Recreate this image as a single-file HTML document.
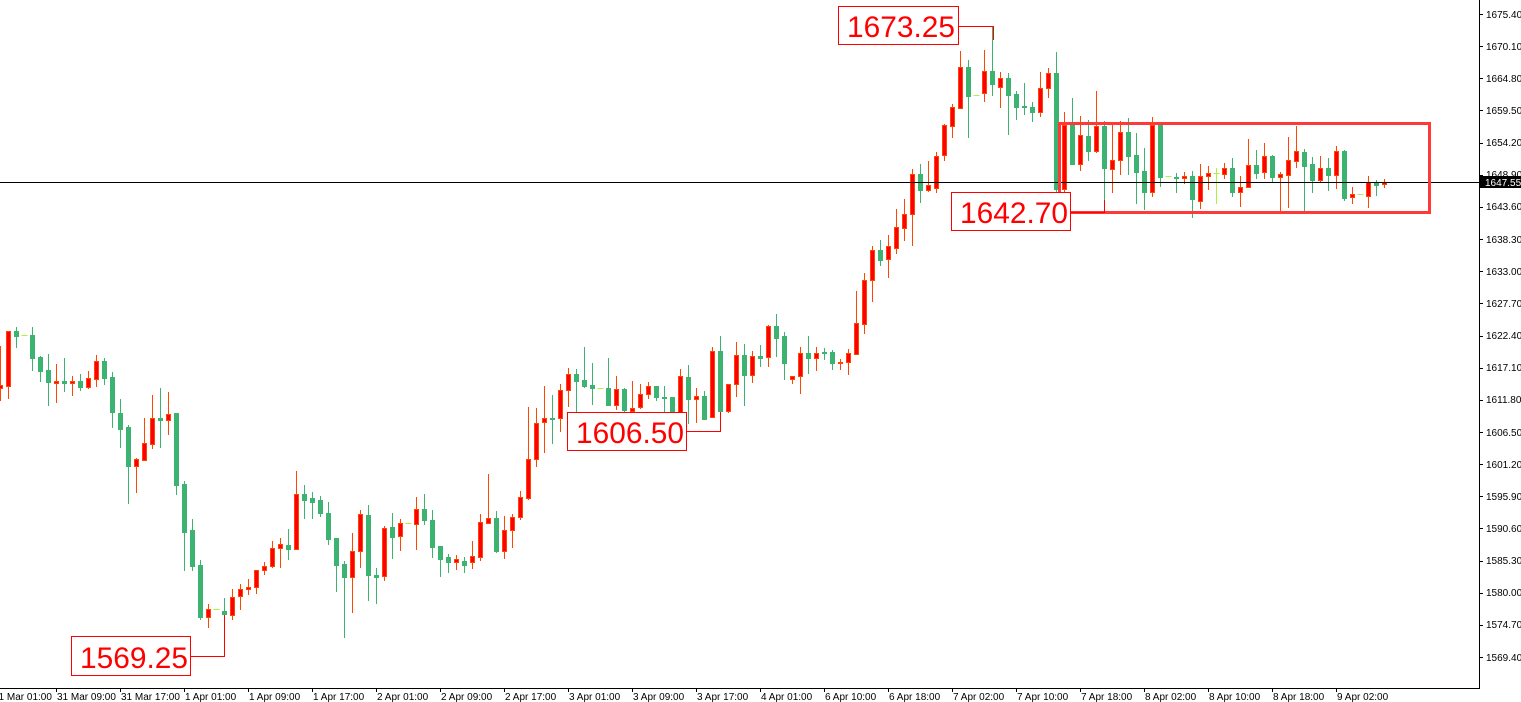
<!DOCTYPE html>
<html><head><meta charset="utf-8"><style>
html,body{margin:0;padding:0;background:#fff;width:1521px;height:702px;overflow:hidden}
svg{display:block}
.ax{font-family:"Liberation Sans",sans-serif;font-size:10px;fill:#000}
.big{font-family:"Liberation Sans",sans-serif;font-size:30px;fill:#ff0000}
</style></head><body>
<svg id="s" width="1521" height="702" xmlns="http://www.w3.org/2000/svg">
<g id="c"></g>
<line x1="0" y1="182.5" x2="1479" y2="182.5" stroke="#000" stroke-width="1"/>
<rect x="1059.5" y="123.5" width="370" height="89" fill="none" stroke="#ff3838" stroke-width="3"/>
<line x1="1479.5" y1="0" x2="1479.5" y2="688" stroke="#000"/>
<line x1="0" y1="688.5" x2="1480" y2="688.5" stroke="#000"/>
<g id="tk" stroke="#000"></g>
<g class="ax">
<text x="1486" y="18">1675.40</text><text x="1486" y="50">1670.10</text><text x="1486" y="82">1664.80</text><text x="1486" y="114">1659.50</text><text x="1486" y="146">1654.20</text><text x="1486" y="178">1648.90</text><text x="1486" y="210">1643.60</text><text x="1486" y="243">1638.30</text><text x="1486" y="275">1633.00</text><text x="1486" y="307">1627.70</text><text x="1486" y="339">1622.40</text><text x="1486" y="371">1617.10</text><text x="1486" y="403">1611.80</text><text x="1486" y="436">1606.50</text><text x="1486" y="468">1601.20</text><text x="1486" y="500">1595.90</text><text x="1486" y="532">1590.60</text><text x="1486" y="564">1585.30</text><text x="1486" y="596">1580.00</text><text x="1486" y="628">1574.70</text><text x="1486" y="661">1569.40</text>
</g>
<rect x="1480" y="176" width="41" height="12" fill="#000"/>
<text x="1485" y="186" class="ax" style="fill:#fff">1647.55</text>
<g class="ax">
<text x="-7" y="700">31 Mar 01:00</text><text x="57" y="700">31 Mar 09:00</text><text x="121" y="700">31 Mar 17:00</text><text x="185" y="700">1 Apr 01:00</text><text x="249" y="700">1 Apr 09:00</text><text x="313" y="700">1 Apr 17:00</text><text x="377" y="700">2 Apr 01:00</text><text x="441" y="700">2 Apr 09:00</text><text x="505" y="700">2 Apr 17:00</text><text x="569" y="700">3 Apr 01:00</text><text x="633" y="700">3 Apr 09:00</text><text x="697" y="700">3 Apr 17:00</text><text x="761" y="700">4 Apr 01:00</text><text x="825" y="700">6 Apr 10:00</text><text x="889" y="700">6 Apr 18:00</text><text x="953" y="700">7 Apr 02:00</text><text x="1017" y="700">7 Apr 10:00</text><text x="1081" y="700">7 Apr 18:00</text><text x="1145" y="700">8 Apr 02:00</text><text x="1209" y="700">8 Apr 10:00</text><text x="1273" y="700">8 Apr 18:00</text><text x="1337" y="700">9 Apr 02:00</text>
</g>
<g fill="#fff" stroke="#ff0000" stroke-width="1">
<rect x="838.5" y="6.5" width="120" height="38"/>
<rect x="71.5" y="636.5" width="119" height="39"/>
<rect x="567.5" y="412.5" width="119" height="38"/>
<rect x="951.5" y="192.5" width="119" height="38"/>
</g>
<g fill="none" stroke="#ff0000" stroke-width="1">
<polyline points="958,26.5 993.5,26.5 993.5,40"/>
<polyline points="190,656.5 224.5,656.5 224.5,615"/>
<polyline points="686,431.5 720.5,431.5 720.5,412"/>
<polyline points="1070,212.5 1104.5,212.5 1104.5,200"/>
</g>
<text x="847" y="37" class="big" textLength="108" lengthAdjust="spacingAndGlyphs">1673.25</text>
<text x="80" y="668" class="big" textLength="108" lengthAdjust="spacingAndGlyphs">1569.25</text>
<text x="576" y="443" class="big" textLength="108" lengthAdjust="spacingAndGlyphs">1606.50</text>
<text x="960" y="223" class="big" textLength="108" lengthAdjust="spacingAndGlyphs">1642.70</text>
</svg>
<script>
var d=[
"r,385,388,346,400","r,331,386,331,398","g,331,336,327,347","d,335,335,335,335","g,335,358,327,370","g,357,371,356,381","g,370,382,354,405","r,381,383,364,402","g,381,383,358,391","r,381,383,376,395",
"g,381,387,374,390","r,378,387,371,388","r,361,379,355,386","g,361,378,358,384","g,377,412,372,427","g,413,429,399,447","g,427,466,425,503","r,459,466,458,492","r,443,460,418,460","r,418,444,395,448",
"g,418,420,388,447","r,414,420,392,434","g,413,485,413,494","g,484,532,481,570","g,530,566,519,570","g,565,617,560,619","r,609,617,604,627","d,609,609,609,609","g,611,614,598,650","r,597,615,589,619",
"r,589,596,584,609","r,587,589,579,594","r,570,587,570,593","r,566,570,562,574","r,548,566,541,567","r,544,548,538,567","g,545,549,529,559","r,494,549,471,549","g,494,500,485,518","g,498,502,492,518",
"g,500,513,496,516","g,513,539,502,544","g,538,565,538,591","g,564,577,561,637","r,551,577,533,612","r,514,551,510,567","g,515,575,505,600","g,575,577,568,603","r,528,576,526,580","g,527,537,513,558",
"r,523,536,519,550","d,523,523,523,523","r,509,524,497,549","g,509,520,494,524","g,520,547,510,557","g,546,559,546,576","g,557,562,554,572","r,559,562,555,569","g,561,565,557,572","r,556,562,541,568",
"r,522,557,514,560","r,518,523,474,523","g,518,551,511,552","r,530,551,516,558","r,517,530,514,547","r,497,517,491,519","r,459,498,407,499","r,423,459,408,466","r,418,422,386,452","g,418,419,395,443",
"r,390,418,384,431","r,374,390,368,406","g,374,381,369,419","g,380,386,347,387","g,385,388,363,404","d,388,388,388,388","g,388,405,358,405","r,389,405,376,409","g,389,410,388,416","r,408,411,381,420",
"r,394,407,384,408","r,386,394,382,398","g,386,397,386,400","g,397,398,386,418","g,397,413,397,423","r,376,413,369,417","g,377,399,365,423","r,396,399,388,422","g,396,419,391,419","r,351,417,347,417",
"g,351,411,336,430","r,384,411,384,412","r,355,384,342,396","g,355,375,344,405","r,356,375,351,382","g,356,358,345,366","r,326,357,325,366","g,326,338,314,356","g,336,363,332,379","r,376,379,376,383",
"r,353,376,347,393","g,353,358,336,373","r,353,358,347,370","g,352,353,348,359","g,352,363,350,369","r,362,363,359,369","r,353,362,349,374","r,323,354,291,354","r,280,324,273,333","r,250,280,246,301",
"g,250,260,240,265","r,246,259,235,277","r,227,248,209,253","r,214,228,199,240","r,174,214,169,245","g,174,190,164,202","r,185,190,161,191","r,156,188,152,192","r,125,155,124,160","r,107,126,104,137",
"r,67,108,51,108","g,67,96,60,137","d,95,95,95,95","r,71,93,50,101","g,71,84,27,95","r,78,87,72,107","g,78,95,73,134","g,94,107,91,119","g,106,107,83,114","g,107,112,102,121",
"r,88,112,72,116","r,73,88,68,97","g,73,189,52,193","r,125,189,112,208","g,125,164,98,164","r,135,164,116,170","g,136,151,120,160","r,126,151,91,152","g,126,168,121,211","r,160,169,123,192",
"r,132,160,121,174","g,132,156,118,174","g,155,172,133,203","g,171,192,148,209","r,125,192,117,196","g,125,177,123,186","d,176,176,176,176","g,177,178,173,192","r,176,178,172,183","g,176,199,171,217",
"r,176,201,164,208","r,173,176,166,189","d,173,173,168,204","r,168,174,163,178","g,168,192,158,196","r,187,192,176,206","r,165,187,139,187","g,165,173,150,178","r,156,172,143,178","g,156,177,155,182",
"r,174,177,172,213","r,160,175,137,207","r,151,161,126,167","g,152,166,149,210","g,164,180,157,192","r,168,180,156,181","g,168,175,158,190","r,151,175,146,188","g,151,198,150,200","r,194,197,187,203",
"d,194,194,194,194","r,182,196,176,207","g,182,185,180,195","r,182,184,179,187"];
var h="";
d.forEach(function(s,i){var a=s.split(","),t=a[0],bt=+a[1],bb=+a[2],wt=+a[3],wb=+a[4];var x=8*i+0.5;
if(t=="d"){h+='<line x1="'+(x-3)+'" y1="'+(bt+0.5)+'" x2="'+(x+3)+'" y2="'+(bt+0.5)+'" stroke="#b0f040"/>';if(wb>wt)h+='<line x1="'+x+'" y1="'+wt+'" x2="'+x+'" y2="'+wb+'" stroke="#b0f040"/>';return;}
var wc=t=="r"?"#ff4500":"#3cb371";
h+='<line x1="'+x+'" y1="'+wt+'" x2="'+x+'" y2="'+(wb+1)+'" stroke="'+wc+'"/>';
var hh=Math.max(bb-bt,1);
if(t=="r")h+='<rect x="'+(x-2)+'" y="'+(bt+0.5)+'" width="4" height="'+hh+'" fill="#ff0000" stroke="#ff4500"/>';
else h+='<rect x="'+(x-2.5)+'" y="'+bt+'" width="5" height="'+(hh+1)+'" fill="#3cb371"/>';
});
document.getElementById("c").innerHTML=h;
var t="";for(var k=0;k<21;k++){var y=Math.round(14+32.15*k)+0.5;t+='<line x1="1479" y1="'+y+'" x2="1483" y2="'+y+'"/>';}
for(var k=0;k<22;k++){var x=-8+64*k+0.5;t+='<line x1="'+x+'" y1="688" x2="'+x+'" y2="692"/>';}
document.getElementById("tk").innerHTML=t;
</script>
</body></html>
